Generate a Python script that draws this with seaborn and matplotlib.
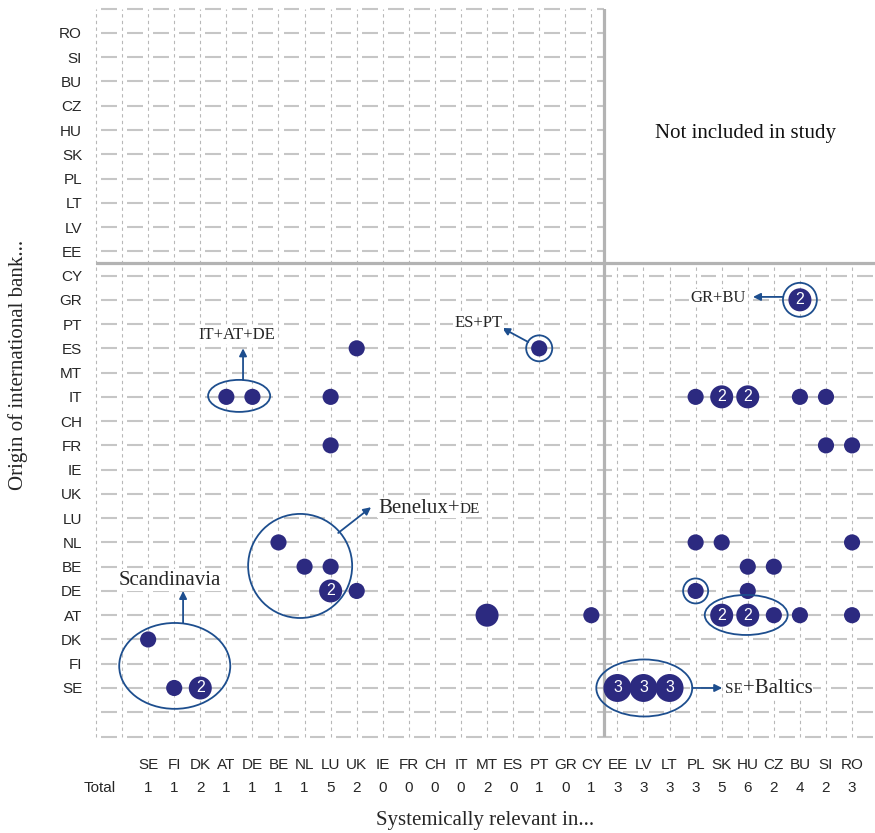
import matplotlib
matplotlib.use("Agg")
import matplotlib.pyplot as plt
import matplotlib.transforms as mtransforms
from matplotlib.patches import Ellipse, Rectangle
from matplotlib.collections import LineCollection
import seaborn as sns
import pandas as pd

# --- Data ---
COUNTRIES = ["SE", "FI", "DK", "AT", "DE", "BE", "NL", "LU", "UK", "IE", "FR", "CH", "IT", "MT",
             "ES", "PT", "GR", "CY", "EE", "LV", "LT", "PL", "SK", "HU", "CZ", "BU", "SI", "RO"]
TOTALS = [1, 1, 2, 1, 1, 1, 1, 5, 2, 0, 0, 0, 0, 2, 0, 1, 0, 1, 3, 3, 3, 3, 5, 6, 2, 4, 2, 3]

# origin of bank (row) -> systemically relevant in (column)
ORIGIN = ["GR", "ES", "ES", "IT", "IT", "IT", "IT", "IT", "IT", "IT", "IT",
          "FR", "FR", "FR", "NL", "NL", "NL", "NL", "BE", "BE", "BE", "BE",
          "DE", "DE", "DE", "DE", "AT", "AT", "AT", "AT", "AT", "AT", "AT",
          "DK", "SE", "SE", "SE", "SE", "SE"]
HOST = ["BU", "UK", "PT", "AT", "DE", "LU", "PL", "SK", "HU", "BU", "SI",
        "LU", "SI", "RO", "BE", "PL", "SK", "RO", "NL", "LU", "HU", "CZ",
        "LU", "UK", "PL", "HU", "MT", "CY", "SK", "HU", "CZ", "BU", "RO",
        "SE", "FI", "DK", "EE", "LV", "LT"]
COUNT = [2, 1, 1, 1, 1, 1, 1, 2, 2, 1, 1,
         1, 1, 1, 1, 1, 1, 1, 1, 1, 1, 1,
         2, 1, 1, 1, 2, 1, 2, 2, 1, 1, 1,
         1, 1, 2, 3, 3, 3]
SHOW_NUMBER = [True, False, False, False, False, False, False, True, True, False, False,
               False, False, False, False, False, False, False, False, False, False, False,
               True, False, False, False, False, False, True, True, False, False, False,
               False, False, True, True, True, True]

DOT_COLOR = "#2c2a80"
RING_COLOR = "#1d4e8e"
GRID_COLOR = "#c6c6c6"
SERIF = ["Liberation Serif", "DejaVu Serif"]
SANS = ["Liberation Sans", "DejaVu Sans"]

sns.set_style("white")
plt.rcParams["font.family"] = SANS

pos = {c: i for i, c in enumerate(COUNTRIES)}
df = pd.DataFrame({"origin": ORIGIN, "host": HOST, "count": COUNT, "show": SHOW_NUMBER})
df["x"] = df["host"].map(pos)
df["y"] = df["origin"].map(pos)

W, H = 875, 833
fig = plt.figure(figsize=(W / 100, H / 100), dpi=100)
ax = fig.add_axes([96 / W, (H - 736.5) / H, (W - 96) / W, 727.8 / H])
ax.set_xlim(-2, 27.88)
ax.set_ylim(-2, 28)
for s in ax.spines.values():
    s.set_visible(False)

# --- grid: short-dashed verticals, broken horizontals ---
ax.vlines(range(-2, 28), -2, 28, colors="#b8b8b8", linestyles=(0, (3, 3)),
          lw=0.8, zorder=1, clip_on=False)
segs = []
for yy in range(-2, 29):
    for xx in range(-2, 28):
        segs.append([(xx + 0.2, yy), (min(xx + 0.8, 27.88), yy)])
ax.add_collection(LineCollection(segs, colors=GRID_COLOR, lw=1.5, zorder=1, clip_on=False))

# blank quadrant (not included in study)
ax.add_patch(Rectangle((17.5, 17.5), 11, 11, fc="white", ec="none", zorder=1.5, clip_on=False))
ax.axvline(17.5, color="#b3b3b3", lw=2.3, zorder=2)
ax.axhline(17.5, color="#b3b3b3", lw=2.3, zorder=2)
ax.text(22.9, 22.85, "Not included in study", ha="center", va="center",
        fontsize=15, family=SERIF, color="#111111")

# --- dots ---
sns.scatterplot(data=df, x="x", y="y", size="count", sizes={1: 135, 2: 275, 3: 405},
                color=DOT_COLOR, linewidth=0, legend=False, ax=ax, zorder=4)
for _, r in df[df["show"]].iterrows():
    ax.text(r["x"], r["y"], str(r["count"]), ha="center", va="center",
            color="white", fontsize=11.5, zorder=5)

ax.set_xlabel("")
ax.set_ylabel("")
ax.set_xticks([])
ax.set_yticks(range(len(COUNTRIES)), COUNTRIES)
ax.tick_params(axis="y", length=0, pad=10, labelsize=11)

# bottom labels and totals
trans = mtransforms.blended_transform_factory(ax.transData, fig.transFigure)
for i, (c, t) in enumerate(zip(COUNTRIES, TOTALS)):
    ax.text(i, (H - 765) / H, c, ha="center", va="center", fontsize=11, transform=trans)
    ax.text(i, (H - 788) / H, str(t), ha="center", va="center", fontsize=11, transform=trans)
ax.text(-1.85, (H - 788) / H, "Total", ha="center", va="center", fontsize=11, transform=trans)

fig.text(485 / W, (H - 820) / H, "Systemically relevant in...", ha="center", va="center",
         fontsize=15, family=SERIF)
fig.text(18 / W, (H - 365) / H, "Origin of international bank...", ha="center", va="center",
         rotation=90, fontsize=15, family=SERIF)


# --- group rings and call-outs ---
def ring(cx, cy, w, h):
    ax.add_patch(Ellipse((cx, cy), w, h, fill=False, ec=RING_COLOR, lw=1.3, zorder=6))


def arrow(x0, y0, x1, y1):
    ax.annotate("", xy=(x1, y1), xytext=(x0, y0),
                arrowprops=dict(arrowstyle="-|>", color=RING_COLOR, lw=1.3,
                                mutation_scale=11, shrinkA=0, shrinkB=0), zorder=6)


def two_part(x, y, first, second, size1, size2):
    # label in two sizes (small caps imitation), sharing one baseline
    t1 = ax.text(x, y, first, ha="left", va="baseline", fontsize=size1, family=SERIF,
                 bbox=dict(fc="white", ec="none", pad=0.5), zorder=7)
    ax.annotate(second, xy=(1, y), xycoords=(t1, "data"), ha="left", va="baseline",
                fontsize=size2, family=SERIF, zorder=7,
                bbox=dict(fc="white", ec="none", pad=0.5))


# Scandinavia
ring(1.02, 0.91, 4.26, 3.54)
arrow(1.34, 2.68, 1.34, 4.0)
ax.text(0.84, 4.45, "Scandinavia", ha="center", va="center", fontsize=15, family=SERIF,
        bbox=dict(fc="white", ec="none", pad=1), zorder=7)

# Benelux+DE
ring(5.83, 5.03, 3.99, 4.29)
arrow(7.29, 6.39, 8.55, 7.45)
two_part(8.82, 7.22, "Benelux+", "DE", 15, 11)

# IT+AT+DE
ring(3.49, 12.04, 2.38, 1.32)
arrow(3.64, 12.7, 3.64, 14.0)
ax.text(3.41, 14.55, "IT+AT+DE", ha="center", va="center", fontsize=12, family=SERIF,
        bbox=dict(fc="white", ec="none", pad=1), zorder=7)

# ES+PT
ring(15.0, 14.0, 1.0, 1.07)
arrow(14.58, 14.26, 13.58, 14.84)
ax.text(12.68, 15.05, "ES+PT", ha="center", va="center", fontsize=12, family=SERIF,
        bbox=dict(fc="white", ec="none", pad=1), zorder=7)

# GR+BU
ring(25.0, 16.0, 1.30, 1.40)
arrow(24.36, 16.12, 23.2, 16.12)
ax.text(21.86, 16.08, "GR+BU", ha="center", va="center", fontsize=12, family=SERIF,
        bbox=dict(fc="white", ec="none", pad=1), zorder=7)

# DE in PL, AT in SK/HU/CZ
ring(21.0, 4.0, 0.96, 1.03)
ring(22.94, 3.01, 3.18, 1.65)

# SE+Baltics
ring(19.03, 0.0, 3.68, 2.35)
arrow(20.87, 0.0, 22.02, 0.0)
two_part(22.12, -0.22, "SE", "+Baltics", 11, 15)

fig.savefig("out.png", dpi=100, facecolor="white")
